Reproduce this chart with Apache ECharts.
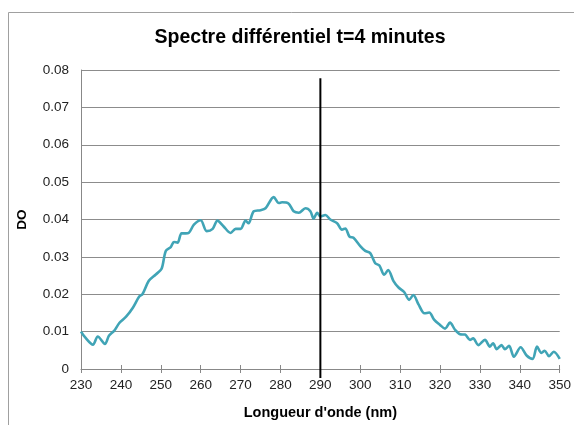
<!DOCTYPE html>
<html><head><meta charset="utf-8">
<script src="https://cdn.jsdelivr.net/npm/echarts@6/dist/echarts.min.js"></script>
<style>html,body{margin:0;padding:0;background:#fff}#c{width:574px;height:425px}</style>
</head><body><div id="c"></div>
<script>
const title = "Spectre différentiel t=4 minutes";
const xName = "Longueur d'onde (nm)";
const yName = "DO";
const wavelengths = [230,231,233,234.2,236,237,238.3,239.6,241.3,243,244.6,245.4,247,248.75,250.2,251.25,252.5,253.3,254.2,255.2,256.25,257,258.3,260,261.5,263,264.2,265.7,267.5,268.75,270,271.25,272,273.3,275,276.25,278.3,279.6,280.4,282,283.3,284.6,286.25,287.5,288.3,289.2,290,291.25,292.5,294.2,295.4,296.25,297.3,298.3,300,301.25,302.5,303.75,304.8,306,307,308.3,309.6,311,312.25,313.3,314.6,316.1,317.3,318.5,320,321.25,322.5,323.75,325,326.25,327.5,328.3,329.6,331.25,332.5,333.3,334.2,335.4,336.25,337.3,338.5,340.2,341.7,343.2,344.3,345.4,346.25,347.3,348.5,350];
const doValues = [0.0100,0.0085,0.0065,0.0087,0.0067,0.0089,0.0102,0.0123,0.0140,0.0164,0.0194,0.0200,0.0236,0.0253,0.0268,0.0316,0.0326,0.0340,0.0338,0.0363,0.0363,0.0364,0.0386,0.0398,0.0369,0.0375,0.0397,0.0382,0.0364,0.0375,0.0375,0.0397,0.0390,0.0422,0.0425,0.0430,0.0460,0.0444,0.0446,0.0443,0.0422,0.0418,0.0430,0.0422,0.0402,0.0418,0.0408,0.0412,0.0400,0.0390,0.0373,0.0376,0.0354,0.0351,0.0329,0.0316,0.0310,0.0283,0.0277,0.0252,0.0265,0.0236,0.0218,0.0206,0.0185,0.0198,0.0173,0.0149,0.0151,0.0132,0.0118,0.0108,0.0124,0.0105,0.0093,0.0092,0.0078,0.0082,0.0064,0.0078,0.0060,0.0069,0.0053,0.0064,0.0053,0.0062,0.0033,0.0058,0.0036,0.0027,0.0060,0.0043,0.0049,0.0034,0.0046,0.0027];
const markerX = 290;
const markerY = [-0.0024, 0.0778];
const xTicks = {min:230, max:350, interval:10};
const yTicks = {min:0, max:0.08, interval:0.01};

const chart = echarts.init(document.getElementById('c'), null, {renderer:'canvas'});
const font = "'Liberation Sans', Arial, sans-serif";
chart.setOption({
  animation:false,
  backgroundColor:'#fff',
  graphic:[{type:'rect', shape:{x:8.5,y:12.5,width:600,height:450}, style:{fill:'none', stroke:'#a0a0a0', lineWidth:1}, silent:true}],
  title:{text:title, left:295, top:23, textAlign:'center', textStyle:{fontFamily:font, fontWeight:'bold', fontSize:19.5, color:'#000'}},
  grid:{left:81, right:10, top:70, bottom:56},
  xAxis:[{type:'value', min:xTicks.min, max:xTicks.max, interval:xTicks.interval,
    name:xName, nameLocation:'middle', nameGap:36,
    nameTextStyle:{fontFamily:font, fontWeight:'bold', fontSize:14.5, color:'#000'},
    axisLine:{lineStyle:{color:'#888'}}, axisTick:{show:true, length:4, lineStyle:{color:'#888'}},
    axisLabel:{fontFamily:font, fontSize:13.5, color:'#222', margin:9},
    splitLine:{show:false}},
   {type:'value', position:'bottom', offset:0, min:xTicks.min, max:xTicks.max, interval:xTicks.interval,
    axisLine:{show:false}, axisTick:{show:true, inside:true, length:4, lineStyle:{color:'#888'}},
    axisLabel:{show:false}, splitLine:{show:false}}],
  yAxis:{type:'value', min:yTicks.min, max:yTicks.max, interval:yTicks.interval,
    name:yName, nameLocation:'middle', nameGap:52, nameRotate:90,
    nameTextStyle:{fontFamily:font, fontWeight:'bold', fontSize:13.5, color:'#000'},
    axisLine:{show:true, lineStyle:{color:'#888'}}, axisTick:{show:false},
    axisLabel:{fontFamily:font, fontSize:13.5, color:'#222', margin:12, formatter:v=>v===0?'0':v.toFixed(2)},
    splitLine:{lineStyle:{color:'#8c8c8c', width:1}}},
  series:[
    {type:'line', xAxisIndex:0, data:wavelengths.map((w,i)=>[w,doValues[i]]), showSymbol:false, smooth:0.3,
      lineStyle:{color:'#40a4b6', width:2.6}},
    {type:'line', xAxisIndex:0, data:markerY.map(y=>[markerX,y]), showSymbol:false, clip:false,
      lineStyle:{color:'#000', width:2}}
  ]
});
</script></body></html>
